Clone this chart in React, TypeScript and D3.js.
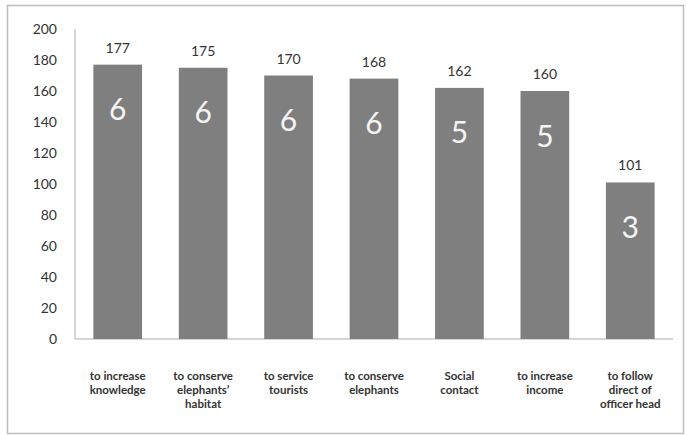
import { useEffect, useRef } from 'react';
import * as d3 from 'd3';

const categories = [
  ['to increase', 'knowledge'],
  ['to conserve', 'elephants\u2019', 'habitat'],
  ['to service', 'tourists'],
  ['to conserve', 'elephants'],
  ['Social', 'contact'],
  ['to increase', 'income'],
  ['to follow', 'direct of', 'officer head'],
];
const values = [177, 175, 170, 168, 162, 160, 101];
const ranks = [6, 6, 6, 6, 5, 5, 3];
const yTicks = [0, 20, 40, 60, 80, 100, 120, 140, 160, 180, 200];

const W = 687;
const H = 435;
const FONT = 'Lato, "Open Sans", sans-serif';

export default function App() {
  const ref = useRef<SVGSVGElement>(null);

  useEffect(() => {
    if (!ref.current) return;
    const svg = d3.select(ref.current);
    svg.selectAll('*').remove();

    const left = 75, right = 673, top = 29, bottom = 339;
    const keys = categories.map((_, i) => String(i));
    const x = d3.scaleBand().domain(keys).range([left, right]).paddingInner(0.43).paddingOuter(0.215);
    const y = d3.scaleLinear().domain([0, 200]).range([bottom, top]);

    // outer frame
    svg.append('rect')
      .attr('x', 7.5).attr('y', 5.5).attr('width', 676).attr('height', 428)
      .attr('fill', '#fff').attr('stroke', '#bdbdbd').attr('stroke-width', 1.5);

    // axes lines
    svg.append('line').attr('x1', left).attr('x2', left).attr('y1', top).attr('y2', bottom)
      .attr('stroke', '#c8c8c8').attr('stroke-width', 1.5);
    svg.append('line').attr('x1', left).attr('x2', right).attr('y1', bottom).attr('y2', bottom)
      .attr('stroke', '#c8c8c8').attr('stroke-width', 1.5);

    svg.append('g').selectAll('text').data(yTicks).enter().append('text')
      .attr('x', 57).attr('y', (d) => y(d)).attr('dy', '0.35em')
      .attr('text-anchor', 'end').attr('font-family', FONT).attr('font-size', 14)
      .attr('fill', '#333').text((d) => d);

    const g = svg.append('g');
    g.selectAll('rect').data(values).enter().append('rect')
      .attr('x', (_, i) => x(String(i))!).attr('y', (d) => y(d))
      .attr('width', x.bandwidth()).attr('height', (d) => bottom - y(d))
      .attr('fill', '#7f7f7f');

    g.selectAll('text.val').data(values).enter().append('text')
      .attr('class', 'val')
      .attr('x', (_, i) => x(String(i))! + x.bandwidth() / 2).attr('y', (d) => y(d) - 12)
      .attr('text-anchor', 'middle').attr('font-family', FONT).attr('font-size', 14)
      .attr('fill', '#333').text((d) => d);

    g.selectAll('text.rank').data(ranks).enter().append('text')
      .attr('class', 'rank')
      .attr('x', (_, i) => x(String(i))! + x.bandwidth() / 2).attr('y', (_, i) => y(values[i]) + 45)
      .attr('dy', '0.35em')
      .attr('text-anchor', 'middle').attr('font-family', FONT).attr('font-size', 30)
      .attr('fill', '#f4f4f4').text((d) => d);

    const cat = g.selectAll('text.cat').data(categories).enter().append('text')
      .attr('class', 'cat')
      .attr('x', (_, i) => x(String(i))! + x.bandwidth() / 2).attr('y', 376)
      .attr('text-anchor', 'middle').attr('font-family', FONT).attr('font-size', 11.5)
      .attr('font-weight', 700).attr('fill', '#333');
    cat.selectAll('tspan').data((d) => d).enter().append('tspan')
      .attr('x', function () { return (this.parentNode as SVGTextElement).getAttribute('x'); })
      .attr('dy', (_, j) => (j === 0 ? '0.35em' : '14'))
      .text((d) => d);
  }, []);

  return (
    <svg ref={ref} width={W} height={H} style={{ position: 'absolute', left: 0, top: 0 }} />
  );
}
